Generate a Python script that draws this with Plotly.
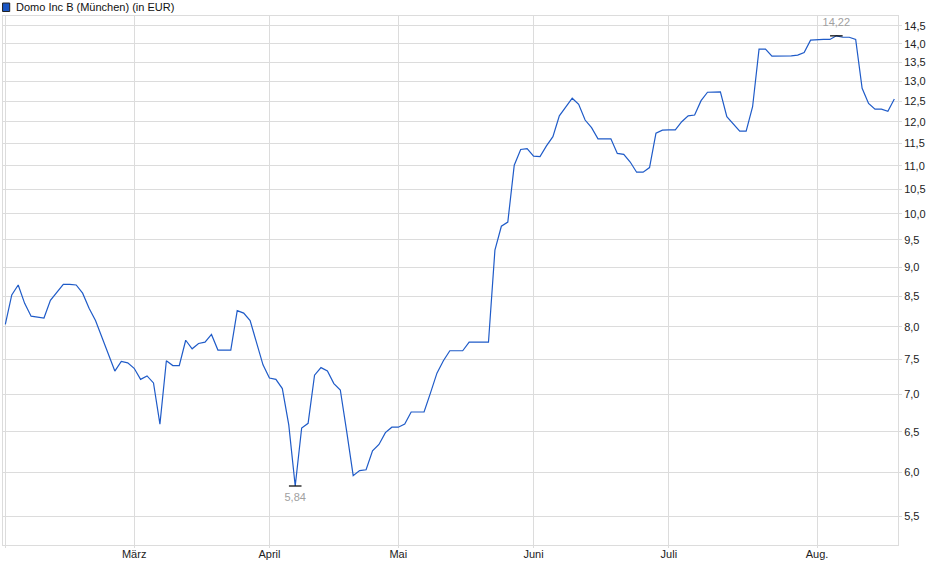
import math
import plotly.graph_objects as go

# Schlusskurse je Handelstag (Index 0 = erster Handelstag im Februar)
prices = [
    8.04, 8.52, 8.69, 8.38, 8.17, 8.16, 8.14, 8.43, 8.57, 8.70,
    8.70, 8.69, 8.55, 8.30, 8.10, 7.84, 7.59, 7.33, 7.47, 7.45,
    7.37, 7.21, 7.26, 7.16, 6.60, 7.48, 7.41, 7.41, 7.79, 7.66,
    7.74, 7.76, 7.88, 7.64, 7.64, 7.64, 8.26, 8.22, 8.10, 7.74,
    7.42, 7.23, 7.21, 7.08, 6.59, 5.84, 6.55, 6.61, 7.27, 7.38,
    7.33, 7.15, 7.06, 6.50, 5.96, 6.02, 6.03, 6.26, 6.34, 6.49,
    6.56, 6.56, 6.60, 6.76, 6.76, 6.76, 7.02, 7.30, 7.48, 7.63,
    7.63, 7.63, 7.76, 7.76, 7.76, 7.76, 9.31, 9.76, 9.84, 11.01,
    11.36, 11.38, 11.21, 11.20, 11.44, 11.65, 12.14, 12.34, 12.57, 12.42,
    12.04, 11.86, 11.60, 11.60, 11.60, 11.27, 11.25, 11.08, 10.86, 10.86,
    10.96, 11.73, 11.80, 11.81, 11.81, 12.00, 12.14, 12.16, 12.51, 12.72,
    12.73, 12.73, 12.12, 11.95, 11.78, 11.78, 12.36, 13.85, 13.85, 13.66,
    13.66, 13.66, 13.67, 13.69, 13.76, 14.10, 14.12, 14.12, 14.12, 14.22,
    14.18, 14.18, 14.12, 12.82, 12.44, 12.30, 12.30, 12.25, 12.55,
]
days = list(range(len(prices)))

# Monatsanfaenge (Handelstag-Index) und Beschriftung
month_idx = [0, 20, 41, 61, 82, 103, 126]
month_labels = ["", "März", "April", "Mai", "Juni", "Juli", "Aug."]

y_ticks = [5.5, 6.0, 6.5, 7.0, 7.5, 8.0, 8.5, 9.0, 9.5, 10.0,
           10.5, 11.0, 11.5, 12.0, 12.5, 13.0, 13.5, 14.0, 14.5]

title_text = "Domo Inc B (München) (in EUR)"
line_col = "#1f5bc8"
grid_col = "#dcdcdc"
FONT = "Liberation Sans, Arial"

i_max = prices.index(max(prices))
i_min = prices.index(min(prices))

fig = go.Figure()
fig.add_trace(go.Scatter(
    x=days, y=prices, mode="lines",
    line=dict(color=line_col, width=1.2),
    hoverinfo="skip", showlegend=False,
))
# Hoch / Tief markieren
fig.add_trace(go.Scatter(
    x=[i_max], y=[prices[i_max]], mode="markers+text",
    marker=dict(symbol="line-ew", size=9, line=dict(color="#000", width=1.2)),
    text=[f"{prices[i_max]:.2f}".replace(".", ",")], textposition="top center",
    textfont=dict(color="#a0a0a0", size=11, family=FONT),
    showlegend=False, hoverinfo="skip",
))
fig.add_trace(go.Scatter(
    x=[i_min], y=[prices[i_min]], mode="markers+text",
    marker=dict(symbol="line-ew", size=9, line=dict(color="#000", width=1.2)),
    text=[f"{prices[i_min]:.2f}".replace(".", ",")], textposition="bottom center",
    textfont=dict(color="#a0a0a0", size=11, family=FONT),
    showlegend=False, hoverinfo="skip",
))

# Legende oben links
fig.add_shape(type="rect", xref="paper", yref="paper",
              x0=-0.0005, x1=0.0075, y0=1.0085, y1=1.0245,
              fillcolor="#1a56c4", line=dict(color="#222", width=1))
fig.add_annotation(text=title_text, xref="paper", yref="paper",
                   x=0.012, y=1.017, xanchor="left", yanchor="middle",
                   showarrow=False,
                   font=dict(size=11, color="#111", family=FONT))

fig.update_layout(
    width=940, height=579,
    margin=dict(l=3, r=42, t=16, b=34),
    paper_bgcolor="white", plot_bgcolor="white",
    separators=",.",
    font=dict(family=FONT, size=11, color="#222"),
)
fig.update_xaxes(
    range=[-0.36, 138.57],
    tickvals=month_idx, ticktext=month_labels,
    showgrid=True, gridcolor=grid_col, gridwidth=1,
    showline=True, linecolor=grid_col, mirror=True,
    ticks="outside", ticklen=2, tickcolor=grid_col,
    ticklabelstandoff=-3,
    zeroline=False, tickfont=dict(size=11, color="#222"),
)
fig.update_yaxes(
    type="log", side="right",
    range=[math.log10(5.197), math.log10(14.789)],
    tickvals=y_ticks, tickformat=".1f",
    showgrid=True, gridcolor=grid_col, gridwidth=1,
    showline=True, linecolor=grid_col, mirror=True,
    ticks="outside", ticklen=3, tickcolor=grid_col,
    zeroline=False, tickfont=dict(size=11, color="#222"),
)

fig.write_html("out.html", config={"displayModeBar": False},
               post_script="document.body.style.margin='0';")
